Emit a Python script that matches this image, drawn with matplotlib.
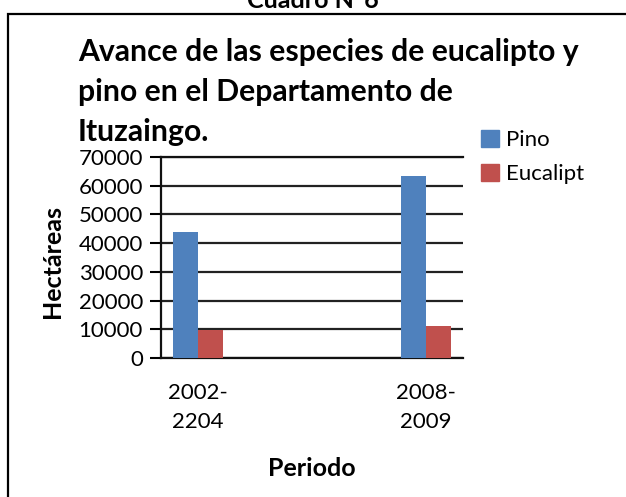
import numpy as np
from matplotlib import pyplot as plt
from matplotlib.patches import Rectangle, Patch

# Chart data.
periods = ['2002-\n2204', '2008-\n2009']
pino = [44000, 63500]
eucalipto = [9800, 11200]
series_names = ['Pino', 'Eucalipt']
colors = ['#4F81BD', '#C0504D']
title_lines = ['Avance de las especies de eucalipto y', 'pino en el Departamento de', 'Ituzaingo.']

W, H = 626, 497
plt.rcParams['font.family'] = ['Lato', 'DejaVu Sans']

fig = plt.figure(figsize=(W / 100, H / 100), dpi=100)
ax = fig.add_axes([161 / W, 1 - 358 / H, (463 - 161) / W, (358 - 157) / H])

# Bars, side by side in each period.
x = np.arange(len(periods))
bw = 0.11
ax.bar(x - bw / 2, pino, bw, color=colors[0], zorder=3)
ax.bar(x + bw / 2, eucalipto, bw, color=colors[1], zorder=3)

ax.set_xlim(-0.162, 1.162)
ax.set_ylim(0, 70000)
ax.set_yticks(np.arange(0, 70001, 10000))
ax.set_xticks(x)
ax.set_xticklabels(periods, fontsize=16, linespacing=1.55)
ax.tick_params(axis='y', labelsize=16, direction='out', length=8, width=1.5, pad=5)
ax.tick_params(axis='x', length=0, pad=18)

# Horizontal grid lines, black like the reference.
ax.yaxis.grid(True, color='#222222', linewidth=1.6)
ax.set_axisbelow(True)
ax.spines['right'].set_visible(False)
for s in ['left', 'bottom', 'top']:
    ax.spines[s].set_linewidth(1.6)
    ax.spines[s].set_color('#111111')

fig.text(312 / W, 1 - 468 / H, 'Periodo', ha='center', va='center', fontsize=18, fontweight='bold')
fig.text(52 / W, 1 - 261 / H, 'Hectáreas', ha='center', va='center', rotation=90,
         fontsize=18, fontweight='bold')

# Title block, one line at a time.
for i, line in enumerate(title_lines):
    fig.text(78 / W, 1 - (61 + 40 * i) / H, line, ha='left', va='baseline',
             fontsize=21.7, fontweight='bold')
fig.text(313 / W, 1 - 8 / H, 'Cuadro N°6', ha='center', va='baseline', fontsize=18, fontweight='bold')

# Legend.
handles = [Patch(color=c) for c in colors]
fig.legend(handles, series_names, loc='upper left', bbox_to_anchor=(470 / W, 1 - 119 / H),
           frameon=False, fontsize=16, borderpad=0, handlelength=0.8, handleheight=0.8,
           handletextpad=0.3, labelspacing=0.6)

# Outer frame, cut by the picture edge on the right and bottom.
fig.add_artist(Rectangle((8 / W, -0.1), 1.2, 1 - 14 / H + 0.1, transform=fig.transFigure,
                         fill=False, edgecolor='black', linewidth=1.6, clip_on=False))

fig.savefig('out.png', dpi=100)
